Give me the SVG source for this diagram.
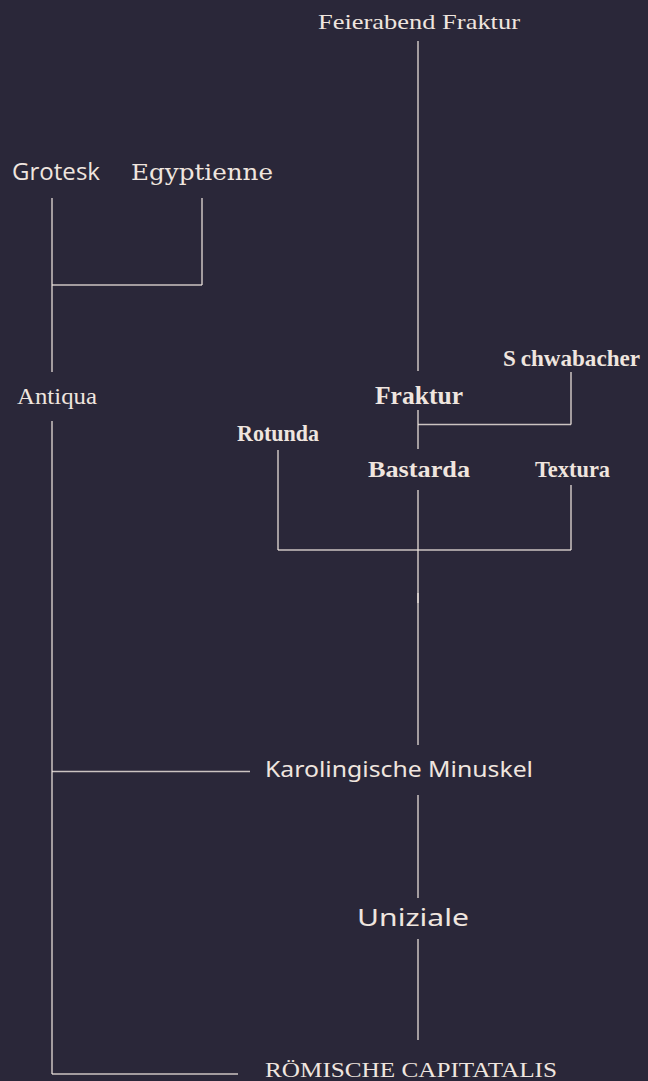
<svg xmlns="http://www.w3.org/2000/svg" width="648" height="1081" viewBox="0 0 648 1081">
<style>
.bg{fill:#2a2739}
.c line{stroke:#efe5df;stroke-opacity:0.82;stroke-width:1.5;fill:none}
text{fill:#efe5df}
.frak{font-family:"Liberation Serif",serif;font-weight:bold}
.frakl{font-family:"Liberation Serif",serif;font-weight:normal}
.serif{font-family:"Liberation Serif",serif}
.sans{font-family:"Open Sans","Noto Sans",sans-serif}
.slab{font-family:"DejaVu Serif",serif;font-weight:300}
.call{font-family:"Noto Sans","DejaVu Sans",sans-serif}
</style>
<rect class="bg" x="0" y="0" width="648" height="1081"/>
<g id="connectors" class="c">
<line x1="418" y1="41" x2="418" y2="371"/>
<line x1="52" y1="198" x2="52" y2="372"/>
<line x1="202" y1="198" x2="202" y2="285"/>
<line x1="52" y1="285" x2="202" y2="285"/>
<line x1="52" y1="421" x2="52" y2="1074"/>
<line x1="52" y1="771.5" x2="250" y2="771.5"/>
<line x1="52" y1="1074" x2="238" y2="1074"/>
<line x1="418" y1="410" x2="418" y2="449"/>
<line x1="418" y1="424.5" x2="571" y2="424.5"/>
<line x1="571" y1="372" x2="571" y2="424.5"/>
<line x1="278" y1="450" x2="278" y2="550"/>
<line x1="278" y1="550" x2="571" y2="550"/>
<line x1="571" y1="485" x2="571" y2="550"/>
<line x1="418" y1="490" x2="418" y2="603"/>
<line x1="418" y1="593" x2="418" y2="745"/>
<line x1="418" y1="795" x2="418" y2="898"/>
<line x1="418" y1="939" x2="418" y2="1040"/>
</g>
<g id="feierabend"><text class="frakl" x="318" y="29" font-size="22" textLength="202" lengthAdjust="spacingAndGlyphs">Feierabend Fraktur</text></g>
<g id="grotesk"><text class="sans" x="12" y="180" font-size="23" textLength="88" lengthAdjust="spacingAndGlyphs">Grotesk</text></g>
<g id="egyptienne"><text class="slab" x="131" y="180" font-size="22" textLength="142" lengthAdjust="spacingAndGlyphs">Egyptienne</text></g>
<g id="antiqua"><text class="serif" x="17" y="404" font-size="24" textLength="80" lengthAdjust="spacingAndGlyphs">Antiqua</text></g>
<g id="schwabacher"><text class="frak" x="503" y="366" font-size="24" textLength="137" lengthAdjust="spacingAndGlyphs">S<tspan dx="5">chwabacher</tspan></text></g>
<g id="fraktur"><text class="frak" x="375" y="404" font-size="26" textLength="88" lengthAdjust="spacingAndGlyphs">Fraktur</text></g>
<g id="rotunda"><text class="frak" x="237" y="441" font-size="24" textLength="82" lengthAdjust="spacingAndGlyphs">Rotunda</text></g>
<g id="bastarda"><text class="frak" x="368" y="477" font-size="24" textLength="102" lengthAdjust="spacingAndGlyphs">Bastarda</text></g>
<g id="textura"><text class="frak" x="535" y="477" font-size="24" textLength="75" lengthAdjust="spacingAndGlyphs">Textura</text></g>
<g id="karolingische"><text class="call" x="265" y="777" font-size="21" textLength="268" lengthAdjust="spacingAndGlyphs">Karolingische Minuskel</text></g>
<g id="uniziale"><text class="call" x="357" y="926" font-size="23" textLength="112" lengthAdjust="spacingAndGlyphs">Uniziale</text></g>
<g id="capitalis"><text class="serif" x="265" y="1077" font-size="22" textLength="292" lengthAdjust="spacingAndGlyphs">RÖMISCHE CAPITATALIS</text></g>
</svg>
